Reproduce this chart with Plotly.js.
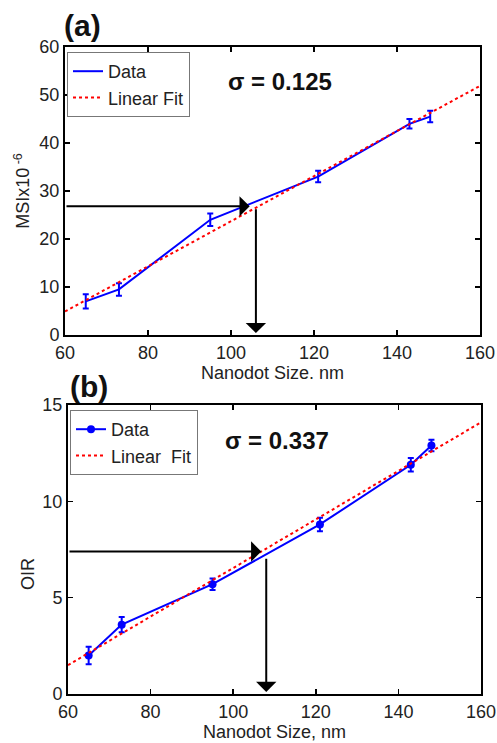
<!DOCTYPE html>
<html>
<head>
<meta charset="utf-8">
<script src="https://cdn.plot.ly/plotly-3.0.1.min.js"></script>
<style>html,body{margin:0;padding:0;background:#fff;}#chart{width:497px;height:743px;}</style>
</head>
<body>
<div id="chart"></div>
<script>
// ---- data ----
var sizes = [65, 73, 95, 121, 143, 148];              // nanodot size, nm
var msi = [7.0, 9.5, 24.0, 33.0, 44.0, 45.5];          // MSI x 10^-6
var msiErr = [1.5, 1.3, 1.3, 1.2, 1.0, 1.2];
var oir = [2.0, 3.6, 5.7, 8.8, 11.9, 12.9];            // OIR
var oirErr = [0.45, 0.4, 0.3, 0.35, 0.35, 0.3];
var fitX = [60, 160];
var msiFit = [4.9, 51.9];
var oirFit = [1.5, 14.1];
var xTicks = [60, 80, 100, 120, 140, 160];
var msiTicks = [0, 10, 20, 30, 40, 50, 60];
var oirTicks = [0, 5, 10, 15];
// arrow read-outs: [x at curve, y level]
var arrowA = [106, 26.8];
var arrowB = [108, 7.4];
var sigmaA = 'σ = 0.125';
var sigmaB = 'σ = 0.337';

var FONT = 'Liberation Sans, Arial, sans-serif';
var BLUE = '#0000ff', RED = '#ff0000';

var traces = [
  {x: sizes, y: msi, type: 'scatter', mode: 'lines', name: 'Data',
   line: {color: BLUE, width: 2},
   error_y: {type: 'data', array: msiErr, visible: true, color: BLUE, thickness: 2, width: 3},
   xaxis: 'x', yaxis: 'y', legend: 'legend'},
  {x: fitX, y: msiFit, type: 'scatter', mode: 'lines', name: 'Linear Fit',
   line: {color: RED, width: 2, dash: 'dot'}, xaxis: 'x', yaxis: 'y', legend: 'legend'},
  {x: sizes, y: oir, type: 'scatter', mode: 'lines+markers', name: 'Data',
   line: {color: BLUE, width: 2}, marker: {color: BLUE, size: 8, symbol: 'circle'},
   error_y: {type: 'data', array: oirErr, visible: true, color: BLUE, thickness: 2, width: 3},
   xaxis: 'x2', yaxis: 'y2', legend: 'legend2'},
  {x: fitX, y: oirFit, type: 'scatter', mode: 'lines', name: 'Linear\u00a0 Fit',
   line: {color: RED, width: 2, dash: 'dot'}, xaxis: 'x2', yaxis: 'y2', legend: 'legend2'}
];

function axisBase(extra) {
  var a = {
    showline: true, linecolor: '#000', linewidth: 2, mirror: 'allticks',
    ticks: 'inside', ticklen: 5, tickwidth: 1.5, tickcolor: '#000',
    showgrid: false, zeroline: false, automargin: false,
    tickfont: {family: FONT, size: 18, color: '#222'}
  };
  for (var k in extra) a[k] = extra[k];
  return a;
}

function arrow(xr, yr, x, y, ax, ay) {
  return {xref: xr, yref: yr, axref: xr, ayref: yr, x: x, y: y, ax: ax, ay: ay,
    text: '', showarrow: true, arrowhead: 1, arrowsize: 1.7, arrowwidth: 2, arrowcolor: '#000', standoff: 0};
}

function label(px, py, txt, size, angle) {
  return {xref: 'paper', yref: 'paper', x: px/497, y: 1 - py/743, xanchor: 'center', yanchor: 'middle',
    text: txt, showarrow: false, textangle: angle || 0, font: {family: FONT, size: size, color: '#111'}};
}

var layout = {
  width: 497, height: 743,
  margin: {l: 0, r: 0, t: 0, b: 0},
  paper_bgcolor: '#fff', plot_bgcolor: '#fff',
  font: {family: FONT, color: '#222', size: 18},
  showlegend: true,
  xaxis: axisBase({domain: [65/497, 480/497], range: [60, 160], tickvals: xTicks, anchor: 'y',
    title: {text: 'Nanodot Size. nm', font: {family: FONT, size: 18, color: '#222'}, standoff: 2}}),
  yaxis: axisBase({domain: [1-335/743, 1-47/743], range: [0, 60], tickvals: msiTicks, anchor: 'x',
    title: {text: 'MSIx10<sup> -6</sup>', font: {family: FONT, size: 18, color: '#222'}, standoff: 5}}),
  xaxis2: axisBase({domain: [68/497, 481/497], range: [60, 160], tickvals: xTicks, anchor: 'y2',
    title: {text: 'Nanodot Size, nm', font: {family: FONT, size: 18, color: '#222'}, standoff: 2}}),
  yaxis2: axisBase({domain: [1-694/743, 1-405/743], range: [0, 15], tickvals: oirTicks, anchor: 'x2'}),
  legend: {x: 67/497, y: 1-52/743, xanchor: 'left', yanchor: 'top', bgcolor: '#fff',
    bordercolor: '#777', borderwidth: 1, font: {family: FONT, size: 18, color: '#222'}, tracegroupgap: 0},
  legend2: {x: 70/497, y: 1-410/743, xanchor: 'left', yanchor: 'top', bgcolor: '#fff',
    bordercolor: '#777', borderwidth: 1, font: {family: FONT, size: 18, color: '#222'}, tracegroupgap: 0},
  annotations: [
    label(280, 82, '<b>' + sigmaA + '</b>', 24),
    label(277, 440, '<b>' + sigmaB + '</b>', 24),
    label(82, 25, '<b>(a)</b>', 30),
    label(89, 387, '<b>(b)</b>', 30),
    {xref: 'paper', yref: 'paper', x: 28/497, y: 1 - 574/743, xanchor: 'center', yanchor: 'middle',
     text: 'OIR', showarrow: false, textangle: -90, font: {family: FONT, size: 18, color: '#222'}},
    arrow('x', 'y', arrowA[0] - 1.5, arrowA[1], 60, arrowA[1]),
    arrow('x', 'y', arrowA[0], 0.4, arrowA[0], arrowA[1] - 0.3),
    arrow('x2', 'y2', arrowB[0] - 1.2, arrowB[1], 60, arrowB[1]),
    arrow('x2', 'y2', arrowB[0], 0.1, arrowB[0], arrowB[1] - 0.3)
  ]
};

Plotly.newPlot('chart', traces, layout, {staticPlot: true, displayModeBar: false});
</script>
</body>
</html>
